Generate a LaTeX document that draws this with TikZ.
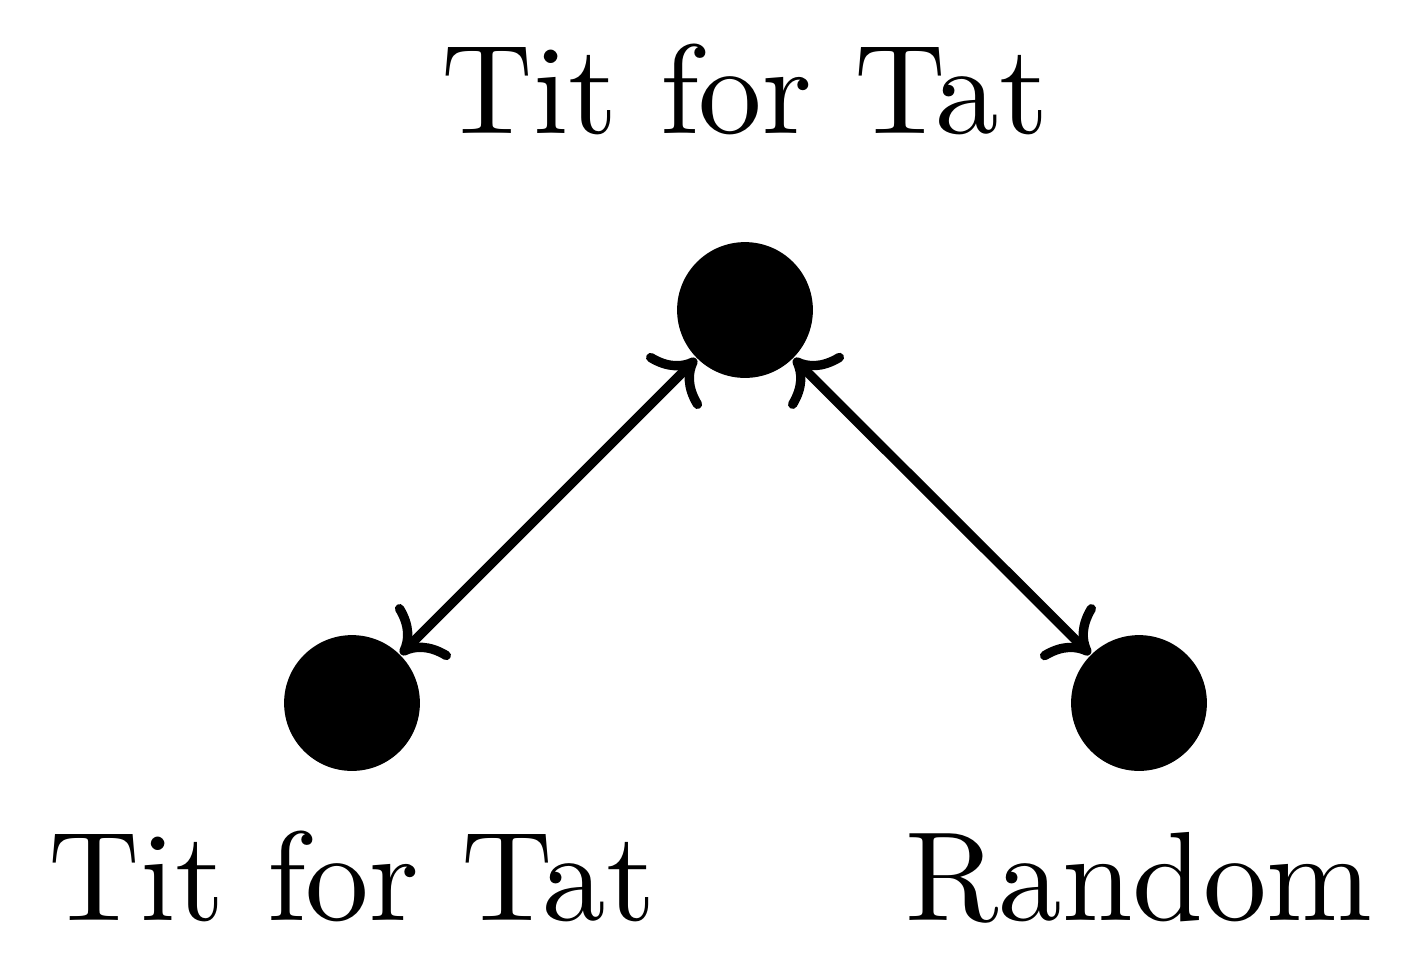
\documentclass[tikz,border=0pt]{standalone}
\usetikzlibrary{arrows.meta}
\begin{document}
\begin{tikzpicture}[x=0.1929pt,y=-0.1929pt,
  vert/.style={circle,fill=black,inner sep=0pt,minimum size=26.2pt},
  lbl/.style={anchor=base,inner sep=0pt,font=\normalsize,scale=2.45},
  edge/.style={line width=1.8pt,{Computer Modern Rightarrow[scale=1.25,round]}-{Computer Modern Rightarrow[scale=1.25,round]},line cap=round}]
\useasboundingbox (0,0) rectangle (1421,966);
\node[vert] (t) at (745,310) {};
\node[vert] (l) at (352,703) {};
\node[vert] (r) at (1139,703) {};
\node[lbl] (tl) at (745,133) {Tit for Tat};
\node[lbl] (ll) at (352,920) {Tit for Tat};
\node[lbl] (rl) at (1139,920) {Random};
\draw[edge] (t) -- (l);
\draw[edge] (t) -- (r);
\end{tikzpicture}
\end{document}
